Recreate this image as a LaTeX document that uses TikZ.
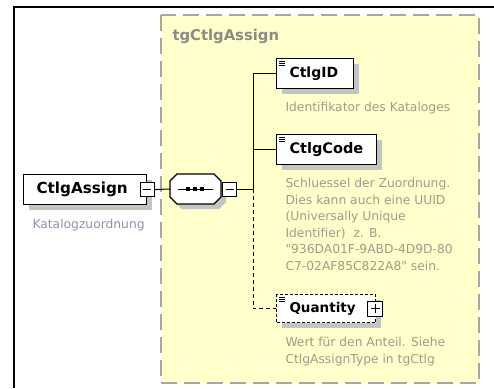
\documentclass[tikz,border=0pt]{standalone}
\usepackage{fontspec}
\setmainfont{DejaVu Sans}
\usetikzlibrary{shadows}

\definecolor{grpfill}{HTML}{FFFFCC}
\definecolor{grpline}{HTML}{A8A8A0}
\definecolor{grptext}{HTML}{8C8C84}
\definecolor{doctext}{HTML}{A09C88}
\definecolor{docblue}{HTML}{9090A8}
\definecolor{shadowgray}{HTML}{C4C4C0}

\newcommand{\elemicon}[1]{%
  \foreach \dy in {3,5,7}
    \draw[line width=0.6pt] ([xshift=3pt,yshift=-\dy pt]#1.north west) -- ++(6pt,0);}

\begin{document}
\begin{tikzpicture}[x=1pt,y=-1pt,line width=1pt]
\tikzset{
  elembox/.style={draw=black, fill=white, line width=1.2pt, inner sep=0pt,
    minimum height=30pt, anchor=north west,
    drop shadow={shadow xshift=5pt, shadow yshift=-5pt, fill=shadowgray, opacity=1}},
  elemlabel/.style={anchor=west, inner sep=0pt, font=\fontsize{14.5}{17}\selectfont\bfseries},
  doc/.style={anchor=north west, inner sep=0pt, align=left, text=doctext,
    font=\fontsize{12.3}{16.6}\selectfont},
  togglebox/.style={draw=black, fill=white, line width=0.8pt, inner sep=0pt,
    minimum width=14pt, minimum height=14pt}
}
\useasboundingbox (0,0) rectangle (494,388);
% outer frame
\draw[line width=1.4pt] (14,388) -- (14,7) -- (494,7);
% group
\draw[grpline, dash pattern=on 16pt off 7pt, line width=1.2pt, fill=grpfill]
  (161,15) rectangle (479,383);
\node[anchor=west, inner sep=0pt, text=grptext, font=\fontsize{14.8}{17}\selectfont\bfseries]
  (grplabel) at (172,36) {tgCtlgAssign};

% root element
\node[elembox, minimum width=123pt] (root) at (23,174) {};
\node[elemlabel, font=\fontsize{15.2}{17}\selectfont\bfseries] (rootlabel) at ([xshift=13pt]root.west) {CtlgAssign};
\node[togglebox] (rootminus) at (root.east) {};
\draw[line width=0.8pt] ([xshift=-4pt]rootminus.center) -- ([xshift=4pt]rootminus.center);
\node[doc, text=docblue] (rootdoc) at (32,218.7) {Katalogzuordnung};

% sequence compositor
\draw[line width=1.2pt, fill=white,
      drop shadow={shadow xshift=5pt, shadow yshift=-5pt, fill=shadowgray, opacity=1}]
  (177,174) -- (214,174) -- (221,181) -- (221,197) -- (214,204) -- (177,204)
  -- (170,197) -- (170,181) -- cycle;
\coordinate (seqin) at (170,189);
\draw[line width=1pt] (178,189) -- (213,189);
\foreach \sx in {188,195,202}
  \fill (\sx-2,187) rectangle (\sx+2,191);
\node[togglebox] (seqminus) at (229.5,189) {};
\draw[line width=0.8pt] ([xshift=-4pt]seqminus.center) -- ([xshift=4pt]seqminus.center);

% child elements
\node[elembox, minimum width=77pt] (ctlgid) at (276,58) {};
\node[elemlabel, font=\fontsize{14}{17}\selectfont\bfseries] (ctlgidlabel) at ([xshift=13pt]ctlgid.west) {CtlgID};
\elemicon{ctlgid}
\node[doc] (ctlgiddoc) at (285,101.7) {Identifikator des Kataloges};

\node[elembox, minimum width=100pt] (ctlgcode) at (276,134) {};
\node[elemlabel] (ctlgcodelabel) at ([xshift=13pt]ctlgcode.west) {CtlgCode};
\elemicon{ctlgcode}
\node[doc] (ctlgcodedoc) at (285,177.7) {Schluessel der Zuordnung.\\
Dies kann auch eine UUID\\
(Universally Unique\\
Identifier)\ \ z. B.\\
\textquotedbl936DA01F-9ABD-4D9D-80\\
C7-02AF85C822A8\textquotedbl\ sein.};

\node[elembox, dashed, dash pattern=on 3pt off 2pt, minimum width=99pt, minimum height=28pt] (qty) at (276,294) {};
\node[elemlabel, font=\fontsize{13.5}{17}\selectfont\bfseries] (qtylabel) at ([xshift=13pt]qty.west) {Quantity};
\elemicon{qty}
\node[togglebox, minimum width=15pt, minimum height=15pt] (qtyplus) at ([xshift=-1pt]qty.east) {};
\draw[line width=0.8pt] ([xshift=-4.5pt]qtyplus.center) -- ([xshift=4.5pt]qtyplus.center)
  ([yshift=-4.5pt]qtyplus.center) -- ([yshift=4.5pt]qtyplus.center);
\node[doc] (qtydoc) at (285,336.7) {Wert für den Anteil. Siehe\\
CtlgAssignType in tgCtlg};

% connectors
\coordinate (branch) at (253,189);
\draw (rootminus.east) -- (seqin);
\draw (seqminus.east) -- (branch);
\draw (branch) |- (ctlgid.west);
\draw (branch) |- (ctlgcode.west);
\draw[dashed, dash pattern=on 4pt off 3pt] (branch) |- (qty.west);
\end{tikzpicture}
\end{document}
